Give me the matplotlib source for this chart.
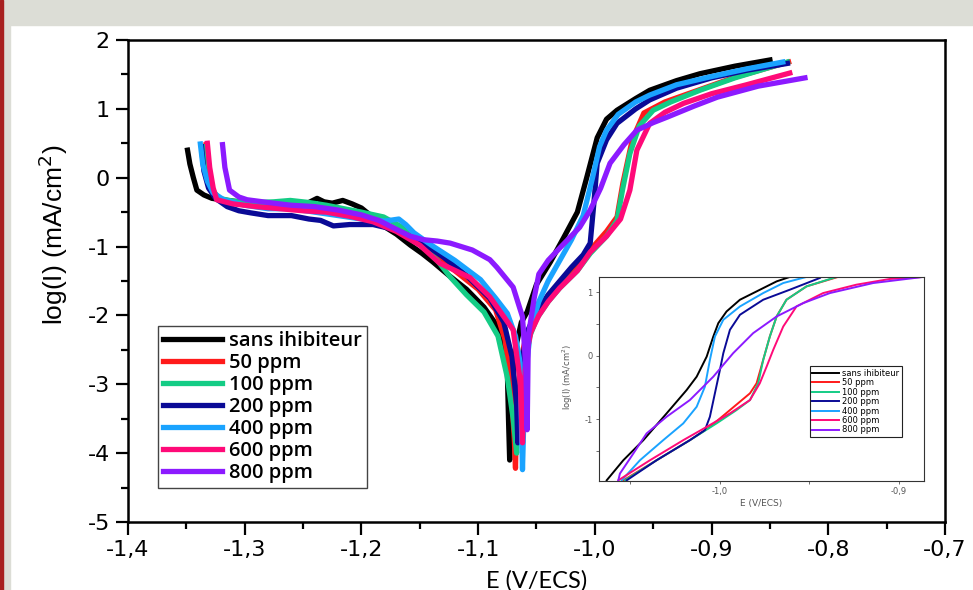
import matplotlib
matplotlib.use("Agg")
import matplotlib.pyplot as plt
from matplotlib.patches import Rectangle
from matplotlib.ticker import MultipleLocator, FuncFormatter

labels = ['sans ihibiteur', '50 ppm', '100 ppm', '200 ppm', '400 ppm', '600 ppm', '800 ppm']
colors = ['#000000', '#ff1a1a', '#14cc85', '#0a0a96', '#1aa3ff', '#ff0a78', '#8c1aff']

# main chart: E (V/ECS) and log(I) per series
E_0 = [-1.349, -1.347, -1.344, -1.341, -1.335, -1.328, -1.315, -1.30, -1.285, -1.27, -1.255, -1.245, -1.238,
       -1.232, -1.225, -1.216, -1.208, -1.20, -1.192, -1.185, -1.17, -1.158, -1.148, -1.139, -1.125, -1.11,
       -1.095, -1.085, -1.079, -1.075, -1.074, -1.073, -1.072, -1.070, -1.067, -1.063, -1.058, -1.050, -1.038,
       -1.027, -1.015, -1.007, -0.998, -0.990, -0.981, -0.965, -0.953, -0.930, -0.910, -0.880, -0.850]
I_0 = [0.40, 0.20, 0.00, -0.18, -0.25, -0.30, -0.33, -0.36, -0.38, -0.37, -0.39, -0.36, -0.30, -0.35, -0.37,
       -0.33, -0.38, -0.44, -0.55, -0.66, -0.82, -0.98, -1.10, -1.22, -1.42, -1.62, -1.88, -2.12, -2.40, -2.80,
       -3.50, -4.10, -3.60, -2.90, -2.40, -2.10, -1.95, -1.55, -1.22, -0.88, -0.50, 0.00, 0.58, 0.85, 0.98,
       1.15, 1.27, 1.41, 1.51, 1.62, 1.71]

E_1 = [-1.333, -1.331, -1.328, -1.324, -1.315, -1.30, -1.28, -1.26, -1.24, -1.22, -1.20, -1.18, -1.16, -1.14,
       -1.12, -1.10, -1.085, -1.077, -1.072, -1.069, -1.068, -1.067, -1.064, -1.059, -1.050, -1.040, -1.030,
       -1.015, -1.004, -0.990, -0.981, -0.976, -0.968, -0.958, -0.940, -0.910, -0.880, -0.834]
I_1 = [0.48, 0.15, -0.15, -0.30, -0.36, -0.38, -0.42, -0.43, -0.45, -0.52, -0.58, -0.68, -0.85, -1.08, -1.35,
       -1.62, -1.92, -2.35, -3.00, -3.80, -4.22, -3.40, -2.70, -2.30, -2.00, -1.75, -1.55, -1.30, -1.05, -0.78,
       -0.57, -0.08, 0.55, 0.94, 1.10, 1.28, 1.46, 1.68]

E_2 = [-1.335, -1.333, -1.329, -1.322, -1.31, -1.29, -1.275, -1.261, -1.245, -1.23, -1.215, -1.20, -1.181,
       -1.165, -1.15, -1.135, -1.124, -1.11, -1.095, -1.083, -1.075, -1.070, -1.067, -1.066, -1.063, -1.058,
       -1.050, -1.040, -1.030, -1.015, -1.004, -0.990, -0.981, -0.976, -0.970, -0.962, -0.950, -0.935, -0.910,
       -0.880, -0.835]
I_2 = [0.45, 0.10, -0.15, -0.30, -0.34, -0.36, -0.35, -0.33, -0.36, -0.40, -0.45, -0.50, -0.57, -0.72, -0.95,
       -1.20, -1.44, -1.70, -1.95, -2.30, -2.90, -3.50, -4.00, -3.50, -2.80, -2.40, -2.05, -1.80, -1.60, -1.35,
       -1.10, -0.85, -0.62, -0.15, 0.35, 0.75, 0.98, 1.10, 1.27, 1.45, 1.68]

E_3 = [-1.337, -1.335, -1.331, -1.325, -1.315, -1.305, -1.295, -1.28, -1.26, -1.245, -1.235, -1.224, -1.21,
       -1.19, -1.17, -1.15, -1.13, -1.11, -1.09, -1.078, -1.071, -1.067, -1.066, -1.065, -1.062, -1.057, -1.050,
       -1.040, -1.030, -1.020, -1.010, -1.004, -1.001, -0.998, -0.990, -0.981, -0.965, -0.953, -0.930, -0.900,
       -0.870, -0.835]
I_3 = [0.45, 0.10, -0.15, -0.30, -0.42, -0.48, -0.51, -0.55, -0.55, -0.60, -0.62, -0.70, -0.68, -0.68, -0.76,
       -0.92, -1.15, -1.42, -1.75, -2.10, -2.60, -3.30, -3.85, -3.20, -2.60, -2.20, -1.95, -1.70, -1.50, -1.30,
       -1.12, -0.95, -0.40, 0.21, 0.55, 0.79, 1.00, 1.13, 1.30, 1.45, 1.56, 1.66]

E_4 = [-1.338, -1.336, -1.332, -1.327, -1.318, -1.30, -1.28, -1.26, -1.24, -1.22, -1.20, -1.18, -1.168, -1.162,
       -1.155, -1.14, -1.12, -1.098, -1.085, -1.075, -1.068, -1.064, -1.063, -1.062, -1.061, -1.059, -1.055,
       -1.048, -1.040, -1.030, -1.020, -1.010, -1.002, -0.996, -0.990, -0.980, -0.965, -0.953, -0.930, -0.900,
       -0.870, -0.839]
I_4 = [0.49, 0.20, -0.05, -0.22, -0.32, -0.40, -0.45, -0.45, -0.50, -0.55, -0.60, -0.63, -0.60, -0.68, -0.80,
       -0.98, -1.20, -1.48, -1.75, -1.97, -2.30, -2.69, -3.50, -4.24, -3.60, -2.80, -2.20, -1.80, -1.50, -1.20,
       -0.90, -0.55, 0.00, 0.45, 0.69, 0.92, 1.10, 1.20, 1.35, 1.47, 1.58, 1.68]

E_5 = [-1.332, -1.330, -1.327, -1.324, -1.31, -1.29, -1.27, -1.25, -1.23, -1.21, -1.19, -1.17, -1.15, -1.133,
       -1.107, -1.090, -1.070, -1.064, -1.063, -1.062, -1.061, -1.059, -1.055, -1.048, -1.040, -1.030, -1.015,
       -1.004, -0.990, -0.978, -0.970, -0.964, -0.953, -0.940, -0.924, -0.900, -0.870, -0.833]
I_5 = [0.50, 0.15, -0.15, -0.32, -0.38, -0.42, -0.45, -0.48, -0.50, -0.56, -0.64, -0.78, -0.98, -1.24, -1.45,
       -1.73, -2.21, -2.94, -3.40, -3.85, -3.20, -2.60, -2.25, -2.00, -1.80, -1.60, -1.35, -1.08, -0.85, -0.60,
       -0.18, 0.40, 0.79, 0.95, 1.08, 1.22, 1.35, 1.52]

E_6 = [-1.319, -1.317, -1.313, -1.305, -1.298, -1.28, -1.26, -1.24, -1.22, -1.20, -1.185, -1.17, -1.158, -1.147,
       -1.135, -1.124, -1.105, -1.090, -1.084, -1.070, -1.062, -1.059, -1.058, -1.0575, -1.057, -1.052, -1.048,
       -1.040, -1.030, -1.013, -1.004, -0.995, -0.987, -0.975, -0.964, -0.950, -0.938, -0.915, -0.895, -0.860,
       -0.820]
I_6 = [0.48, 0.15, -0.18, -0.28, -0.32, -0.36, -0.40, -0.42, -0.47, -0.54, -0.62, -0.75, -0.85, -0.90, -0.92,
       -0.95, -1.05, -1.19, -1.30, -1.59, -2.02, -2.80, -3.66, -3.00, -2.30, -1.75, -1.40, -1.20, -1.02, -0.72,
       -0.47, -0.15, 0.21, 0.48, 0.69, 0.80, 0.88, 1.04, 1.17, 1.33, 1.45]

# inset (zoom on anodic branch)
iE_0 = [-1.0633, -1.0540, -1.0428, -1.0298, -1.0186, -1.0130, -1.0074, -1.0037, -1.0009, -0.9963, -0.9888, -0.9795, -0.9683, -0.9609]
iI_0 = [-1.964, -1.648, -1.332, -0.910, -0.542, -0.332, -0.016, 0.300, 0.511, 0.695, 0.880, 1.011, 1.169, 1.239]
iE_1 = [-1.0540, -1.0354, -1.0168, -1.0056, -0.9944, -0.9832, -0.9795, -0.9758, -0.9721, -0.9683, -0.9628, -0.9516, -0.9340]
iI_1 = [-1.964, -1.648, -1.332, -1.122, -0.858, -0.594, -0.436, -0.068, 0.300, 0.616, 0.880, 1.090, 1.239]
iE_2 = [-1.0531, -1.0354, -1.0168, -1.0019, -0.9907, -0.9832, -0.9786, -0.9758, -0.9721, -0.9683, -0.9628, -0.9516, -0.9348]
iI_2 = [-1.964, -1.648, -1.332, -1.068, -0.858, -0.700, -0.436, -0.068, 0.300, 0.616, 0.880, 1.090, 1.239]
iE_3 = [-1.0521, -1.0354, -1.0168, -1.0084, -1.0056, -1.0028, -1.0000, -0.9981, -0.9944, -0.9888, -0.9758, -0.9609, -0.9441]
iI_3 = [-1.964, -1.648, -1.332, -1.174, -0.963, -0.594, -0.226, 0.038, 0.406, 0.643, 0.880, 1.038, 1.223]
iE_4 = [-1.0549, -1.0447, -1.0317, -1.0205, -1.0130, -1.0084, -1.0056, -1.0028, -0.9981, -0.9888, -0.9758, -0.9646, -0.9516]
iI_4 = [-1.964, -1.648, -1.332, -1.068, -0.806, -0.490, -0.068, 0.300, 0.564, 0.774, 0.985, 1.143, 1.239]
iE_5 = [-1.0568, -1.0391, -1.0205, -1.0074, -0.9944, -0.9832, -0.9777, -0.9739, -0.9702, -0.9646, -0.9572, -0.9423, -0.9237, -0.9050, -0.8864]
iI_5 = [-1.964, -1.648, -1.332, -1.122, -0.910, -0.700, -0.436, -0.174, 0.090, 0.458, 0.774, 0.985, 1.117, 1.207, 1.239]
iE_6 = [-1.0568, -1.0559, -1.0484, -1.0410, -1.0298, -1.0168, -1.0037, -0.9926, -0.9814, -0.9683, -0.9534, -0.9385, -0.9143, -0.8864]
iI_6 = [-1.964, -1.858, -1.542, -1.226, -0.963, -0.700, -0.332, 0.038, 0.354, 0.616, 0.827, 0.985, 1.143, 1.239]

main_E = [E_0, E_1, E_2, E_3, E_4, E_5, E_6]
main_I = [I_0, I_1, I_2, I_3, I_4, I_5, I_6]
ins_E = [iE_0, iE_1, iE_2, iE_3, iE_4, iE_5, iE_6]
ins_I = [iI_0, iI_1, iI_2, iI_3, iI_4, iI_5, iI_6]


def comma(v, pos):
    return ('%.1f' % v).replace('.', ',')


fig = plt.figure(figsize=(9.73, 5.9), dpi=100, facecolor='white')
# page frame around the figure
fig.patches.append(Rectangle((0, 1 - 25 / 590), 1, 25 / 590, transform=fig.transFigure, color='#dcddd6', zorder=0))
fig.patches.append(Rectangle((0, 0), 10 / 973, 1, transform=fig.transFigure, color='#dcddd6', zorder=0))
fig.patches.append(Rectangle((0, 0), 3 / 973, 1, transform=fig.transFigure, color='#a82020', zorder=0))

ax = fig.add_axes([128 / 973, 68 / 590, 817 / 973, 482 / 590])
for i in range(7):
    ax.plot(main_E[i], main_I[i], color=colors[i], lw=3.8, label=labels[i])

ax.set_xlim(-1.4, -0.7)
ax.set_ylim(-5, 2)
ax.xaxis.set_major_locator(MultipleLocator(0.1))
ax.xaxis.set_minor_locator(MultipleLocator(0.05))
ax.yaxis.set_major_locator(MultipleLocator(1))
ax.yaxis.set_minor_locator(MultipleLocator(0.5))
ax.xaxis.set_major_formatter(FuncFormatter(comma))
ax.yaxis.set_major_formatter(FuncFormatter(lambda v, p: '%d' % round(v)))
ax.tick_params(which='major', length=9, width=1.6, direction='out', labelsize=16, pad=4)
ax.tick_params(which='minor', length=5, width=1.6, direction='out')
for s in ax.spines.values():
    s.set_linewidth(1.8)
for t in ax.get_xticklabels() + ax.get_yticklabels():
    t.set_family('DejaVu Sans')

ax.set_ylabel('log(I) (mA/cm$^2$)', family='Liberation Sans', fontsize=19)
ax.yaxis.set_label_coords(-0.071, 0.595)
ax.set_xlabel('E (V/ECS)', family='Lato', fontsize=17)
ax.xaxis.set_label_coords(0.5, -0.100)

leg = ax.legend(loc='lower left', bbox_to_anchor=(0.037, 0.07), handlelength=2.9,
                handletextpad=0.35, borderpad=0.25, labelspacing=0.1, fancybox=False, framealpha=1,
                borderaxespad=0, prop={'family': 'Open Sans', 'weight': 'semibold', 'size': 14.5})
leg.get_frame().set_edgecolor('#444444')
leg.get_frame().set_linewidth(1.0)

# inset
axi = fig.add_axes([599 / 973, 109 / 590, 325 / 973, 204 / 590])
for i in range(7):
    axi.plot(ins_E[i], ins_I[i], color=colors[i], lw=1.4, label=labels[i])
axi.set_xlim(-1.0676, -0.8859)
axi.set_ylim(-1.975, 1.238)
axi.xaxis.set_major_locator(MultipleLocator(0.1))
axi.xaxis.set_minor_locator(MultipleLocator(0.05))
axi.yaxis.set_major_locator(MultipleLocator(1))
axi.yaxis.set_minor_locator(MultipleLocator(0.5))
axi.xaxis.set_major_formatter(FuncFormatter(comma))
axi.yaxis.set_major_formatter(FuncFormatter(lambda v, p: '%d' % round(v)))
axi.tick_params(which='both', length=2.5, width=0.6, colors='#555555', labelsize=6, pad=2)
for s in axi.spines.values():
    s.set_linewidth(0.8)
    s.set_color('#333333')
axi.set_ylabel('log(I) (mA/cm$^2$)', fontsize=6, color='#555555')
axi.yaxis.set_label_coords(-0.075, 0.51)
axi.set_xlabel('E (V/ECS)', fontsize=6.5, color='#555555')
axi.xaxis.set_label_coords(0.5, -0.09)
legi = axi.legend(loc='lower left', bbox_to_anchor=(0.649, 0.216), fontsize=6, handlelength=3.2,
                  handletextpad=0.4, borderpad=0.3, labelspacing=0.05, fancybox=False, framealpha=1,
                  borderaxespad=0)
legi.get_frame().set_edgecolor('#222222')
legi.get_frame().set_linewidth(0.8)

fig.savefig('out.png', dpi=100, facecolor=fig.get_facecolor())
